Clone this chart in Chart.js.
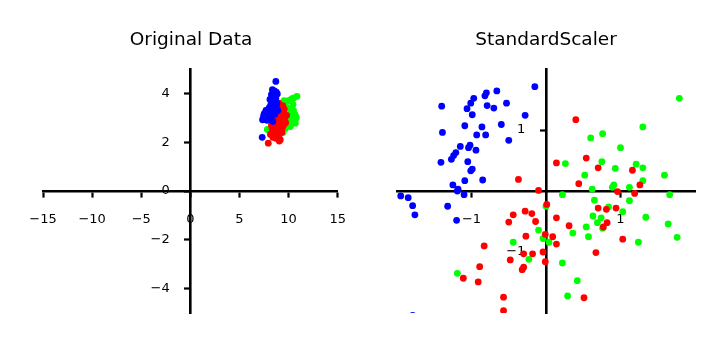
<!DOCTYPE html>
<html><head><meta charset="utf-8">
<script src="https://cdn.jsdelivr.net/npm/chart.js@4.4.0/dist/chart.umd.min.js"></script>
<style>
html,body{margin:0;padding:0;background:#fff;}
#wrap{position:relative;width:724px;height:342px;overflow:hidden;}
canvas{position:absolute;top:0;}
</style></head><body>
<div id="wrap">
<canvas id="c1" width="362" height="342" style="left:0"></canvas>
<canvas id="c2" width="362" height="342" style="left:362px"></canvas>
</div>
<script>
// ---------- data ----------
const titles = ["Original Data", "StandardScaler"];
const classColors = ["#0000ff", "#ff0000", "#00ff00"];

const origXTicks = [-15, -10, -5, 0, 5, 10, 15];
const origYTicks = [-4, -2, 0, 2, 4];
const scaledXTicks = [-1, 1];
const scaledYTicks = [-1, 1];

const origBlue = [[8.70,4.49],[8.55,4.10],[8.75,4.05],[8.40,4.00],[8.65,3.95],[8.85,3.98],[8.50,3.85],[8.30,3.80],[8.70,3.80],[8.45,3.70],[8.60,3.65],[8.25,3.60],[8.80,3.60],[8.40,3.55],[8.15,3.50],[8.55,3.45],[8.30,3.40],[8.00,3.40],[8.70,3.35],[8.20,3.30],[7.85,3.30],[8.45,3.25],[7.60,3.20],[8.05,3.20],[7.75,3.10],[8.30,3.10],[7.45,3.05],[7.95,3.00],[7.60,2.95],[8.15,2.95],[7.35,2.92],[7.80,2.90],[8.40,2.85],[7.31,2.20],[8.60,3.15],[8.90,3.30],[8.10,3.75],[8.35,4.15],[7.50,3.15],[8.00,3.00],[8.75,3.50],[8.50,3.55],[8.25,3.95],[7.70,3.30]];
const origRed = [[9.00,3.60],[8.50,3.20],[8.45,3.00],[8.30,2.60],[8.15,2.32],[9.00,2.25],[9.15,2.10],[8.70,2.16],[7.93,1.96],[9.30,2.40],[8.60,2.80],[8.90,2.90],[9.10,3.10],[9.30,3.30],[8.80,3.40],[9.50,2.70],[9.20,2.60],[8.75,2.50],[8.40,2.45],[9.60,3.00],[9.40,3.50],[8.95,2.70],[8.55,2.35],[9.10,2.45],[8.65,3.05],[9.25,2.85],[9.70,2.80],[8.35,2.80],[9.00,3.30],[9.45,3.20],[8.85,2.30],[8.50,2.55],[9.35,2.55],[9.55,3.35],[8.70,3.25],[9.05,2.95],[8.25,2.70],[9.80,3.10],[8.80,2.60],[9.20,3.45],[8.40,2.20],[9.05,2.05],[8.60,2.95],[9.15,3.20]];
const origGreen = [[10.85,3.88],[10.55,3.82],[10.35,3.78],[10.10,3.72],[9.85,3.67],[9.45,3.53],[9.65,3.45],[9.90,3.40],[10.20,3.35],[10.50,3.30],[10.68,3.12],[10.40,3.05],[10.68,2.78],[10.17,2.64],[9.90,2.95],[9.60,3.20],[9.30,3.10],[9.00,3.35],[8.83,3.26],[9.20,2.85],[9.50,2.90],[9.75,2.70],[10.00,3.15],[9.40,2.60],[9.10,2.55],[8.80,2.75],[8.65,2.45],[7.83,2.52],[9.00,2.40],[9.65,2.55],[10.35,2.85],[10.05,2.80],[9.30,3.35],[9.70,3.00],[8.95,3.00],[10.25,3.10],[9.55,3.70],[10.60,2.95],[9.80,3.25],[9.20,3.60],[10.80,3.00],[9.45,2.40],[8.70,3.05],[10.45,3.55]];

const scaledBlue = [[-0.15,1.71],[-0.66,1.64],[-0.80,1.61],[-0.82,1.56],[-0.97,1.52],[-1.01,1.44],[-0.53,1.44],[-1.40,1.39],[-1.06,1.35],[-0.79,1.40],[-0.70,1.36],[-0.99,1.25],[-0.28,1.24],[-0.60,1.09],[-1.09,1.07],[-0.86,1.05],[-1.39,0.96],[-0.93,0.92],[-0.81,0.92],[-0.50,0.83],[-1.15,0.73],[-1.02,0.75],[-1.04,0.71],[-0.94,0.67],[-1.21,0.63],[-1.24,0.58],[-1.27,0.52],[-1.41,0.47],[-1.05,0.48],[-0.99,0.36],[-1.01,0.33],[-1.09,0.17],[-0.85,0.18],[-1.25,0.10],[-1.18,0.03],[-1.19,0.00],[-1.10,-0.06],[-1.95,-0.08],[-1.85,-0.11],[-1.79,-0.24],[-1.32,-0.25],[-1.76,-0.39],[-1.20,-0.48],[-1.79,-2.04]];
const scaledRed = [[-0.37,0.19],[-0.10,0.01],[0.40,1.17],[0.14,0.46],[0.54,0.54],[0.70,0.38],[1.16,0.34],[0.44,0.12],[1.26,0.10],[0.96,-0.01],[1.19,-0.04],[0.01,-0.22],[0.14,-0.44],[0.70,-0.28],[0.81,-0.30],[0.94,-0.28],[0.31,-0.57],[0.82,-0.52],[0.77,-0.59],[-0.01,-0.71],[0.09,-0.75],[0.14,-0.87],[1.03,-0.79],[0.67,-1.01],[0.51,-1.75],[-0.28,-0.33],[-0.19,-0.37],[-0.44,-0.39],[-0.50,-0.51],[-0.14,-0.50],[-0.27,-0.74],[-0.83,-0.90],[-0.30,-1.03],[-0.18,-1.03],[-0.04,-1.00],[-0.48,-1.13],[-0.01,-1.16],[-0.89,-1.24],[-0.30,-1.25],[-0.32,-1.29],[-1.11,-1.43],[-0.91,-1.49],[-0.57,-1.74],[-0.57,-1.96]];
const scaledGreen = [[1.79,1.52],[1.30,1.05],[0.76,0.94],[0.60,0.87],[1.00,0.71],[0.26,0.45],[0.75,0.48],[1.21,0.44],[1.30,0.38],[0.93,0.37],[0.52,0.26],[1.59,0.26],[1.30,0.17],[0.91,0.10],[0.89,0.06],[0.62,0.03],[1.12,0.06],[0.22,-0.06],[0.65,-0.15],[1.12,-0.16],[1.66,-0.06],[0.00,-0.25],[0.84,-0.26],[1.03,-0.34],[1.34,-0.43],[0.63,-0.41],[0.74,-0.44],[0.69,-0.52],[0.76,-0.61],[0.54,-0.59],[1.64,-0.54],[0.36,-0.69],[0.57,-0.75],[1.76,-0.76],[1.24,-0.84],[-0.10,-0.64],[-0.04,-0.78],[0.04,-0.84],[-0.44,-0.84],[-0.23,-1.12],[0.22,-1.18],[0.42,-1.47],[0.29,-1.72],[-1.19,-1.35]];

const origLimits = {x: [-15, 15], y: [-5, 5]};
const scaledLimits = {x: [-2, 2], y: [-2, 2]};

// ---------- chart ----------
Chart.defaults.font.family = "'DejaVu Sans', sans-serif";
Chart.defaults.color = "#000";

function toPts(arr) { return arr.map(p => ({x: p[0], y: p[1]})); }
function fmt(v) { return String(v).replace('-', '\u2212'); }
// centred y axes draw labels flush against the spine; trailing spaces give the gap
const Y_LABEL_GAP = '     ';

function makeChart(id, title, groups, limits, xTicks, yTicks, pad) {
  const datasets = groups.map((g, i) => ({
    data: toPts(g),
    backgroundColor: classColors[i],
    borderWidth: 0,
    pointRadius: 3.4,
    pointHoverRadius: 3.4,
    clip: 0
  }));
  const axisCommon = {
    type: 'linear',
    z: 1,
    border: {display: true, color: '#000', width: 2.6},
    grid: {drawOnChartArea: false, drawTicks: true, tickLength: 5, tickWidth: 2.2, tickColor: '#000'},
  };
  return new Chart(document.getElementById(id), {
    type: 'scatter',
    data: {datasets},
    options: {
      responsive: false,
      animation: false,
      events: [],
      layout: {padding: pad},
      plugins: {
        legend: {display: false},
        tooltip: {enabled: false},
        title: {display: true, text: title, font: {size: 18.5, weight: 'normal'}, color: '#000',
                padding: {top: 29, bottom: 17.8}}
      },
      scales: {
        x: Object.assign({}, axisCommon, {
          min: limits.x[0], max: limits.x[1],
          position: {y: 0},
          afterFit: s => { s.height = 0; },
          afterBuildTicks: s => { s.ticks = xTicks.map(v => ({value: v})); },
          ticks: {font: {size: 13}, padding: 16, maxRotation: 0, autoSkip: false, callback: v => fmt(v)}
        }),
        y: Object.assign({}, axisCommon, {
          min: limits.y[0], max: limits.y[1],
          position: {x: 0},
          afterFit: s => { s.width = 0; },
          afterBuildTicks: s => { s.ticks = yTicks.map(v => ({value: v})); },
          ticks: {font: {size: 13}, padding: 14, autoSkip: false, callback: v => fmt(v) + Y_LABEL_GAP}
        })
      }
    }
  });
}

makeChart('c1', titles[0], [origBlue, origRed, origGreen], origLimits, origXTicks, origYTicks,
          {left: 43, right: 23, top: 0, bottom: 29});
makeChart('c2', titles[1], [scaledBlue, scaledRed, scaledGreen], scaledLimits, scaledXTicks, scaledYTicks,
          {left: 35, right: 29, top: 0, bottom: 29});
</script>
</body></html>
